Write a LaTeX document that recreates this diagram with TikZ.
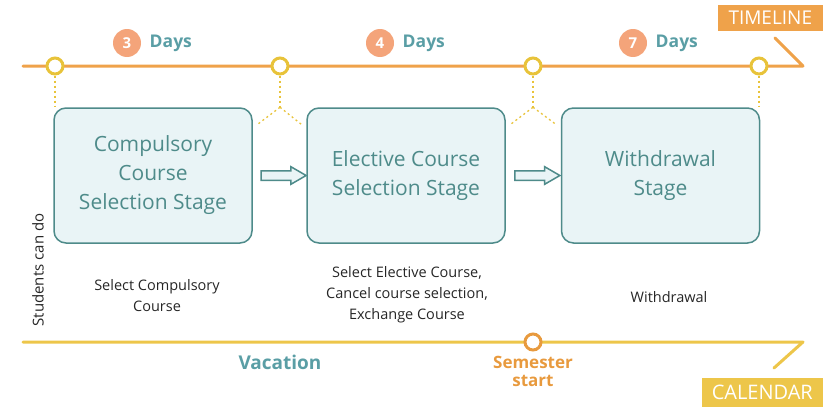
\documentclass[tikz,border=0pt]{standalone}
\usepackage{fontspec}
\setmainfont{Open Sans}
\usetikzlibrary{positioning, shapes.arrows, calc}
\definecolor{tlorange}{HTML}{EFA24A}
\definecolor{calyellow}{HTML}{EDC64A}
\definecolor{ringyellow}{HTML}{E8C33A}
\definecolor{stageteal}{HTML}{4E8B8A}
\definecolor{stagefill}{HTML}{E9F4F6}
\definecolor{textteal}{HTML}{5A9EA5}
\definecolor{badgeorange}{HTML}{F4A47A}
\definecolor{startorange}{HTML}{E89A3E}
\tikzset{
    timeline/.style = {
        draw = tlorange,
        line width = 3pt,
        line cap = round,
        line join = round
    },
    calline/.style = {
        timeline,
        draw = calyellow
    },
    ring/.style = {
        circle,
        draw = ringyellow,
        line width = 3pt,
        fill = white,
        minimum size = 16pt,
        inner sep = 0pt
    },
    guide/.style = {
        draw = ringyellow,
        line width = 1.3pt,
        dash pattern = on 2pt off 3pt
    },
    stage/.style = {
        rectangle,
        rounded corners = 12pt,
        draw = stageteal,
        line width = 1.5pt,
        fill = stagefill,
        minimum width = 198pt,
        minimum height = 135pt,
        text = stageteal,
        align = center,
        font = \fontsize{21}{29}\selectfont
    },
    flow/.style = {
        single arrow,
        draw = stageteal,
        line width = 1.5pt,
        fill = stagefill,
        minimum height = 45pt,
        text height = 4pt,
        text depth = 4pt,
        text width = 0pt,
        single arrow head extend = 4pt,
        single arrow tip angle = 60,
        inner sep = 0pt
    },
    badge/.style = {
        circle,
        fill = badgeorange,
        text = white,
        minimum size = 28pt,
        inner sep = 0pt,
        font = \fontsize{15}{15}\selectfont\bfseries
    },
    days/.style = {
        text = textteal,
        font = \fontsize{17.5}{17.5}\selectfont\bfseries,
        right = 5pt of #1
    },
    todo/.style = {
        align = center,
        text = black!85,
        font = \fontsize{14.5}{21}\selectfont
    },
    tag/.style = {
        text = white,
        inner xsep = 4pt,
        font = \fontsize{19}{19}\selectfont
    }
}

\begin{document}
\begin{tikzpicture}[x=1pt, y=-1pt]
    \useasboundingbox (0,0) rectangle (823,407);

    % timeline
    \coordinate (tl0) at (23,66);
    \coordinate (tl1) at (803,66);
    \coordinate (tl2) at (775,38);
    \draw[timeline] (tl0) -- (tl1) -- (tl2);
    \node[tag, fill=tlorange, anchor=north east, minimum width=105pt, minimum height=26pt] (tltag) at (823,5) {TIMELINE};

    % calendar
    \coordinate (cal0) at (23,342);
    \coordinate (cal1) at (803,342);
    \coordinate (cal2) at (774,368);
    \draw[calline] (cal0) -- (cal1) -- (cal2);
    \node[tag, fill=calyellow, anchor=south east, minimum width=121pt, minimum height=29pt, font=\fontsize{20}{20}\selectfont] (caltag) at (823,407) {CALENDAR};

    % stages
    \node[stage] (s1) at (153,175.5) {Compulsory\\Course\\Selection Stage};
    \node[stage] (s2) at (406,175.5) {Elective Course\\Selection Stage};
    \node[stage] (s3) at (660.5,175.5) {Withdrawal\\Stage};

    \node[flow] (a1) at ($(s1.east)!0.5!(s2.west)$) {};
    \node[flow] (a2) at ($(s2.east)!0.5!(s3.west)$) {};

    % rings on the timeline
    \foreach \n/\x in {1/55, 2/280, 3/533, 4/759}{
        \node[ring] (r\n) at (\x,66) {};
    }

    % dotted guides
    \draw[guide] (r1.south) -- (r1.south |- s1.north);
    \draw[guide] (r4.south) -- (r4.south |- s3.north);
    \foreach \n/\l/\r in {2/s1/s2, 3/s2/s3}{
        \coordinate (j\n) at (r\n.south |- s1.north);
        \draw[guide] (r\n.south) -- (j\n);
        \draw[guide] (j\n) -- ($(\l.north east)+(5,17)$);
        \draw[guide] (j\n) -- ($(\r.north west)+(-5,17)$);
    }

    % durations
    \foreach \n/\x/\d in {1/127/3, 2/380/4, 3/633/7}{
        \node[badge] (b\n) at (\x,43) {\d};
        \node[days=b\n] (d\n) {Days};
    }

    % what students can do
    \node[rotate=90, font=\fontsize{15}{15}\selectfont, text=black!85] (can) at (38,270) {Students can do};
    \node[todo] (t1) at (157,296) {Select Compulsory\\Course};
    \node[todo] (t2) at (407,295) {Select Elective Course,\\Cancel course selection,\\Exchange Course};
    \node[todo] (t3) at (669,297) {Withdrawal};

    % calendar marks
    \node[ring, draw=startorange] (sem) at (533,342) {};
    \node[align=center, text=startorange, font=\fontsize{17}{18}\selectfont\bfseries, inner sep=0pt] (semtext) at (533,371) {Semester\\start};
    \node[text=textteal, font=\fontsize{19}{19}\selectfont\bfseries] (vac) at (280,362) {Vacation};
\end{tikzpicture}
\end{document}
